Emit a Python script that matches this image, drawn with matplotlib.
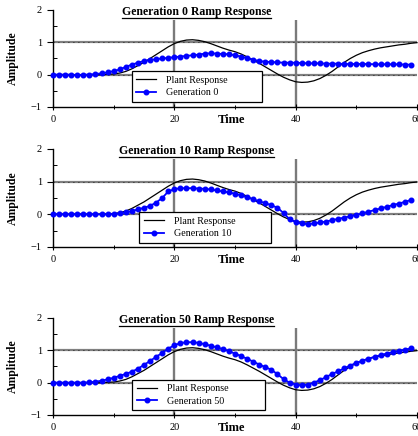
import numpy as np
import matplotlib
matplotlib.use("Agg")
from matplotlib import pyplot as plt
from matplotlib.lines import Line2D
from matplotlib.ticker import MultipleLocator

plt.rcParams["font.family"] = ["Liberation Serif", "DejaVu Serif"]

# time axis (plant sampled 0..60, GA best 0..59)
plant_time = list(range(61))
gen_time = list(range(60))

plant_response = [
    0, 0, 0, 0, 0, 0, 0, 0, 0, 0.01,
    0.02, 0.05, 0.10, 0.18, 0.28, 0.38, 0.50, 0.62, 0.74, 0.86,
    0.96, 1.03, 1.07, 1.08, 1.06, 1.02, 0.96, 0.89, 0.82, 0.76,
    0.71, 0.64, 0.55, 0.45, 0.35, 0.24, 0.13, 0.02, -0.08, -0.16,
    -0.22, -0.24, -0.23, -0.19, -0.12, -0.02, 0.10, 0.24, 0.38, 0.50,
    0.60, 0.68, 0.74, 0.79, 0.83, 0.86, 0.89, 0.92, 0.94, 0.97,
    0.99,
]

gen0 = [
    0, 0, 0, 0, -0.02, 0, 0, 0.02, 0.04, 0.07,
    0.11, 0.16, 0.24, 0.31, 0.37, 0.42, 0.45, 0.48, 0.50, 0.52,
    0.54, 0.56, 0.58, 0.60, 0.62, 0.65, 0.66, 0.65, 0.64, 0.63,
    0.60, 0.56, 0.51, 0.46, 0.42, 0.40, 0.39, 0.38, 0.37, 0.37,
    0.37, 0.36, 0.35, 0.35, 0.35, 0.34, 0.34, 0.34, 0.33, 0.33,
    0.33, 0.33, 0.33, 0.32, 0.32, 0.32, 0.32, 0.32, 0.31, 0.31,
]

gen10 = [
    0, 0, 0, 0, 0, 0, 0, 0, 0, 0,
    0.01, 0.03, 0.06, 0.10, 0.15, 0.20, 0.26, 0.36, 0.50, 0.70,
    0.77, 0.80, 0.80, 0.80, 0.79, 0.78, 0.76, 0.73, 0.70, 0.67,
    0.63, 0.58, 0.52, 0.46, 0.40, 0.34, 0.28, 0.20, 0.04, -0.15,
    -0.24, -0.28, -0.30, -0.28, -0.25, -0.22, -0.18, -0.14, -0.10, -0.06,
    -0.02, 0.03, 0.08, 0.13, 0.18, 0.23, 0.28, 0.33, 0.38, 0.44,
]

gen50 = [
    0, 0, 0, 0, 0, 0, 0.01, 0.03, 0.06, 0.10,
    0.15, 0.21, 0.27, 0.34, 0.43, 0.55, 0.67, 0.80, 0.92, 1.05,
    1.16, 1.22, 1.25, 1.25, 1.23, 1.19, 1.14, 1.09, 1.04, 0.97,
    0.90, 0.82, 0.74, 0.65, 0.56, 0.48, 0.40, 0.26, 0.11, 0.00,
    -0.06, -0.08, -0.06, 0.00, 0.08, 0.17, 0.27, 0.35, 0.44, 0.53,
    0.61, 0.68, 0.74, 0.80, 0.85, 0.90, 0.94, 0.98, 1.02, 1.06,
]

generations = [0, 10, 50]
gen_series = [gen0, gen10, gen50]

# axes boxes in figure fraction, and legend boxes in axes fraction
panel_bottoms = [0.7546, 0.4335, 0.0482]
panel_heights = [0.2225, 0.2248, 0.2225]
legend_boxes = [(0.217, 0.575, 0.367), (0.237, 0.598, 0.357), (0.218, 0.583, 0.363)]

fig = plt.figure(figsize=(4.18, 4.36), dpi=100)

titles = []
for gen, series, bottom, height, lbox in zip(generations, gen_series,
                                               panel_bottoms, panel_heights,
                                               legend_boxes):
    ax = fig.add_axes([0.1268, bottom, 0.8708, height])
    ax.set_xlim(0, 60)
    ax.set_ylim(-1, 2)

    # reference lines
    for y in (0, 1):
        ax.axhline(y, color="#808080", lw=1.6, zorder=1)
        ax.axhline(y, color="black", lw=0.6, ls=(0, (1, 5)), zorder=1.1)
    ax.vlines([20, 40], -1, 1.7, color="#7a7a7a", lw=1.7, zorder=1)

    ax.plot(plant_time, plant_response, color="black", lw=0.9,
            label="Plant Response", zorder=3, clip_on=False)
    ax.plot(gen_time, series, color="#0000ff", lw=1.3, marker="o", ms=3.3,
            label=f"Generation {gen}", zorder=4, clip_on=False)

    for side in ("top", "right"):
        ax.spines[side].set_visible(False)
    ax.spines["left"].set_linewidth(1.0)
    ax.spines["bottom"].set_linewidth(1.0)

    ax.xaxis.set_major_locator(MultipleLocator(20))
    ax.xaxis.set_minor_locator(MultipleLocator(10))
    ax.yaxis.set_major_locator(MultipleLocator(1))
    ax.yaxis.set_minor_locator(MultipleLocator(0.5))
    ax.tick_params(axis="x", which="major", direction="inout", length=4,
                   width=0.8, labelsize=7.5, pad=3.5)
    ax.tick_params(axis="x", which="minor", direction="inout", length=3,
                   width=0.7)
    ax.tick_params(axis="y", which="major", direction="out", length=4,
                   width=0.8, labelsize=7.5, pad=4)
    ax.tick_params(axis="y", which="minor", direction="in", length=3,
                   width=0.7)

    ax.set_ylabel("Amplitude", fontsize=8.5, fontweight="bold")
    ax.yaxis.set_label_coords(-0.094, 0.5)
    ax.annotate("Time", xy=(29.5, 0), xycoords=("data", "axes fraction"),
                xytext=(0, -9.4), textcoords="offset points",
                ha="center", va="center", fontsize=9, fontweight="bold")

    t = ax.text(23.7, 1.93, f"Generation {gen} Ramp Response", ha="center",
                va="center", fontsize=8.5, fontweight="bold")
    titles.append(t)

    x0, x1, ytop = lbox
    leg = ax.legend(loc="upper left", bbox_to_anchor=(x0, 0, x1 - x0, ytop),
                    mode="expand", borderaxespad=0, fontsize=7.2,
                    handlelength=2.0, handletextpad=1.0, borderpad=0.45,
                    labelspacing=0.35, numpoints=1, fancybox=False,
                    framealpha=1, edgecolor="black")
    leg.get_frame().set_linewidth(0.9)
    leg.set_zorder(10)

# underline the panel titles
fig.canvas.draw()
inv = fig.transFigure.inverted()
for t in titles:
    bb = t.get_window_extent()
    (fx0, fy0), (fx1, _) = inv.transform([(bb.x0, bb.y0), (bb.x1, bb.y1)])
    fig.add_artist(Line2D([fx0, fx1], [fy0 + 0.001, fy0 + 0.001],
                          color="black", lw=0.9, transform=fig.transFigure))

fig.savefig("out.png", dpi=100)
